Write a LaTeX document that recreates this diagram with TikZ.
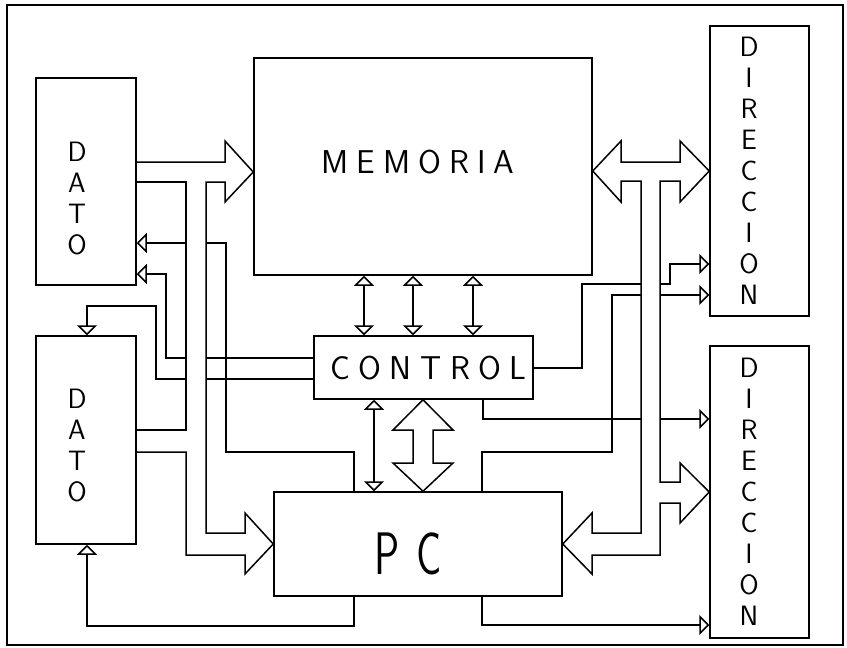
\documentclass[tikz,border=0pt]{standalone}
\usepackage{fontspec}
\usepackage{graphicx}
\usetikzlibrary{arrows.meta}
\makeatletter
\newcommand{\spreadtxt}[2]{\def\spread@gap{#1}\@tfor\spread@c:=#2\do{\spread@c\kern\spread@gap}\unkern}
\makeatother
\tikzset{
  blk/.style={draw, line width=1.5pt, inner sep=0pt},
  wire/.style={line width=1.5pt, line join=miter},
  sig/.style={wire, -{Triangle[open, length=10pt, width=20pt]}},
  bisig/.style={wire, {Triangle[open, length=10pt, width=20pt]}-{Triangle[open, length=10pt, width=20pt]}},
  hlbl/.style={font=\sffamily\fontsize{33}{33}\selectfont, inner sep=0pt},
  vlbl/.style={font=\sffamily\fontsize{28}{31}\selectfont, align=center, inner sep=0pt},
}

\begin{document}
\begin{tikzpicture}[x=1pt, y=-1pt]
    \useasboundingbox (0,0) rectangle (847,648);
    \draw[line width=1.6pt] (7,5) rectangle (843,645);
    % blocks
    \node[blk, minimum width=100, minimum height=207] (datoA) at (86,181.5) {};
    \node[blk, minimum width=100, minimum height=208] (datoB) at (86,440) {};
    \node[blk, minimum width=338, minimum height=217] (mem) at (423,166.5) {};
    \node[blk, minimum width=99, minimum height=290] (dirA) at (759.5,171) {};
    \node[blk, minimum width=99, minimum height=292] (dirB) at (759.5,492) {};
    \node[blk, minimum width=219, minimum height=63] (ctrl) at (423.5,367.5) {};
    \node[blk, minimum width=288, minimum height=104] (pc) at (418,544) {};
    % labels
    \node[vlbl] (datoAtxt) at (77,198.5) {D\\A\\T\\O};
    \node[vlbl] (datoBtxt) at (77,446) {D\\A\\T\\O};
    \node[vlbl] (dirAtxt) at (749,171) {D\\I\\R\\E\\C\\C\\I\\O\\N};
    \node[vlbl] (dirBtxt) at (749,491.5) {D\\I\\R\\E\\C\\C\\I\\O\\N};
    \node[hlbl] (memtxt) at (418,162) {\spreadtxt{8pt}{MEMORIA}};
    \node[hlbl] (ctrltxt) at (428.5,368.5) {\spreadtxt{8.5pt}{CONTROL}};
    \node[inner sep=0pt, font=\sffamily\fontsize{60}{60}\selectfont] (pctxt) at (408.5,554)
      {\scalebox{0.7}[1]{P\hspace{0.4em}C}};
    % data bus left
    \draw[wire] (datoA.east |- 0,162) -- (225,162) -- (225,141) -- (mem.west |- 0,172)
      -- (225,202) -- (225,182) -- (206,182) -- (206,533) -- (245,533) -- (245,513)
      -- (pc.west |- 0,544) -- (245,574) -- (245,555) -- (186,555) -- (186,452)
      -- (datoB.east |- 0,452);
    \draw[wire] (datoA.east |- 0,182) -- (186,182) -- (186,430) -- (datoB.east |- 0,430);
    % signals to the data registers
    \draw[wire] (pc.north -| 354,0) -- (354,452) -- (226,452) -- (226,243) -- (206,243);
    \draw[sig] (186,243) -- (datoA.east |- 0,243);
    \draw[wire] (ctrl.west |- 0,358) -- (206,358);
    \draw[sig] (186,358) -- (166,358) -- (166,274) -- (datoA.east |- 0,274);
    \draw[wire] (ctrl.west |- 0,379) -- (206,379);
    \draw[sig] (186,379) -- (156,379) -- (156,306) -- (87,306) -- (datoB.north -| 87,0);
    \draw[sig] (pc.south -| 354,0) -- (354,626) -- (87,626) -- (datoB.south -| 87,0);
    % memory <-> control <-> pc
    \foreach \xx in {364,413,473}
      \draw[bisig] (mem.south -| \xx,0) -- (ctrl.north -| \xx,0);
    \draw[bisig] (ctrl.south -| 374,0) -- (pc.north -| 374,0);
    \draw[wire] (ctrl.south -| 423,0) -- (453,430) -- (433,430) -- (433,463) -- (453,463)
      -- (pc.north -| 423,0) -- (393,463) -- (413,463) -- (413,430) -- (393,430) -- cycle;
    % address bus right
    \draw[wire] (mem.east |- 0,171) -- (621,141) -- (621,162) -- (680,162) -- (680,141)
      -- (dirA.west |- 0,171) -- (680,202) -- (680,181) -- (660,181) -- (660,482)
      -- (680,482) -- (680,463) -- (dirB.west |- 0,492) -- (680,523) -- (680,503)
      -- (660,503) -- (660,555) -- (592,555) -- (592,574) -- (pc.east |- 0,544)
      -- (592,513) -- (592,533) -- (641,533) -- (641,181) -- (621,181) -- (621,202) -- cycle;
    % signals to the address registers
    \draw[wire] (ctrl.east |- 0,368) -- (582,368) -- (582,284) -- (641,284);
    \draw[sig] (660,284) -- (670,284) -- (670,264) -- (dirA.west |- 0,264);
    \draw[wire] (pc.north -| 482,0) -- (482,452) -- (612,452) -- (612,295) -- (641,295);
    \draw[sig] (660,295) -- (dirA.west |- 0,295);
    \draw[wire] (ctrl.south -| 483,0) -- (483,419) -- (641,419);
    \draw[sig] (660,419) -- (dirB.west |- 0,419);
    \draw[sig] (pc.south -| 482,0) -- (482,625) -- (dirB.west |- 0,625);
\end{tikzpicture}
\end{document}
